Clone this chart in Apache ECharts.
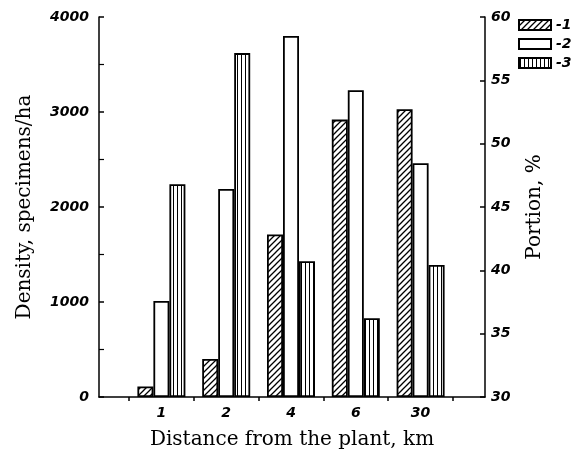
<!DOCTYPE html>
<html>
<head>
<meta charset="utf-8">
<script src="https://cdn.jsdelivr.net/npm/echarts@6/dist/echarts.min.js"></script>
<style>
  html, body { margin: 0; padding: 0; background: #fff; }
  #chart { width: 574px; height: 454px; }
</style>
</head>
<body>
<div id="chart"></div>
<script>
// distance from the plant, km
const categories = ['1', '2', '4', '6', '30']
const series1 = [110, 400, 1710, 2920, 3030]
const series2 = [1010, 2190, 3800, 3230, 2460]
const series3 = [2240, 3620, 1430, 830, 1390]
const densityTicks = { min: 0, max: 4000, interval: 1000 }
const portionTicks = { min: 30, max: 60, interval: 5 }

const labelFont = {
  color: '#000',
  fontFamily: 'DejaVu Sans',
  fontStyle: 'italic',
  fontWeight: 'bold',
  fontSize: 14
}
const nameFont = {
  color: '#000',
  fontFamily: 'DejaVu Serif',
  fontSize: 20
}

// hatch patterns
const makePattern = (size, draw) => {
  const c = document.createElement('canvas')
  c.width = size
  c.height = size
  const g = c.getContext('2d')
  g.fillStyle = '#fff'
  g.fillRect(0, 0, size, size)
  g.strokeStyle = '#000'
  draw(g, size)
  return { image: c, repeat: 'repeat' }
}

const diagonal = makePattern(6, (g, s) => {
  g.lineWidth = 1.3
  g.beginPath()
  g.moveTo(0, s); g.lineTo(s, 0)
  g.moveTo(-1, 1); g.lineTo(1, -1)
  g.moveTo(s - 1, s + 1); g.lineTo(s + 1, s - 1)
  g.stroke()
})

const vertical = makePattern(4, (g, s) => {
  g.lineWidth = 1
  g.beginPath()
  g.moveTo(1.5, 0); g.lineTo(1.5, s)
  g.stroke()
})

const barStyle = fill => ({
  color: fill,
  borderColor: '#000',
  borderWidth: 1.8
})

const plain = v => String(v)

const chart = echarts.init(document.getElementById('chart'))

const option = {
  animation: false,
  backgroundColor: '#fff',
  legend: {
    orient: 'vertical',
    left: 513,
    top: 13,
    itemWidth: 32,
    itemHeight: 10,
    itemGap: 5,
    icon: 'rect',
    formatter: '-{name}',
    textStyle: labelFont,
    data: ['1', '2', '3']
  },
  grid: [
    { left: 99, right: 89, top: 17, bottom: 57, outerBoundsMode: 'none' },
    { left: 129, right: 121, top: 17, bottom: 57, outerBoundsMode: 'none' }
  ],
  xAxis: [
    {
      type: 'value',
      gridIndex: 0,
      min: 0,
      max: 1,
      name: 'Distance from the plant, km',
      nameLocation: 'middle',
      nameGap: 33,
      nameTextStyle: nameFont,
      axisLine: { show: true, lineStyle: { color: '#000', width: 1.5 } },
      axisTick: { show: false },
      axisLabel: { show: false },
      splitLine: { show: false }
    },
    {
      type: 'category',
      gridIndex: 1,
      data: categories,
      axisLine: { show: false },
      axisTick: { show: true, inside: false, length: 4, lineStyle: { color: '#000', width: 1.5 } },
      axisLabel: { ...labelFont, margin: 9 },
      splitLine: { show: false }
    }
  ],
  yAxis: [
    {
      type: 'value',
      gridIndex: 0,
      position: 'left',
      ...densityTicks,
      name: 'Density, specimens/ha',
      nameLocation: 'middle',
      nameGap: 64,
      nameRotate: 90,
      nameTextStyle: nameFont,
      axisLine: { show: true, lineStyle: { color: '#000', width: 1.5 } },
      axisTick: { show: true, inside: true, length: 5, lineStyle: { color: '#000', width: 1.5 } },
      minorTick: { show: true, splitNumber: 2, length: 5, lineStyle: { color: '#000', width: 1.2 } },
      axisLabel: { ...labelFont, margin: 10, formatter: plain },
      splitLine: { show: false }
    },
    {
      type: 'value',
      gridIndex: 0,
      position: 'right',
      ...portionTicks,
      name: 'Portion, %',
      nameLocation: 'middle',
      nameGap: 40,
      nameRotate: 90,
      nameTextStyle: nameFont,
      axisLine: { show: true, lineStyle: { color: '#000', width: 1.5 } },
      axisTick: { show: true, inside: true, length: 5, lineStyle: { color: '#000', width: 1.5 } },
      axisLabel: { ...labelFont, margin: 6, formatter: plain },
      splitLine: { show: false }
    },
    {
      type: 'value',
      gridIndex: 1,
      ...densityTicks,
      show: false,
      splitLine: { show: false }
    }
  ],
  series: [
    {
      name: '1',
      type: 'bar',
      xAxisIndex: 1,
      yAxisIndex: 2,
      barWidth: 16,
      barGap: '0%',
      itemStyle: barStyle(diagonal),
      data: series1
    },
    {
      name: '2',
      type: 'bar',
      xAxisIndex: 1,
      yAxisIndex: 2,
      barWidth: 16,
      barGap: '0%',
      itemStyle: barStyle('#fff'),
      data: series2
    },
    {
      name: '3',
      type: 'bar',
      xAxisIndex: 1,
      yAxisIndex: 2,
      barWidth: 16,
      barGap: '0%',
      itemStyle: barStyle(vertical),
      data: series3
    }
  ]
}

chart.setOption(option)
</script>
</body>
</html>
